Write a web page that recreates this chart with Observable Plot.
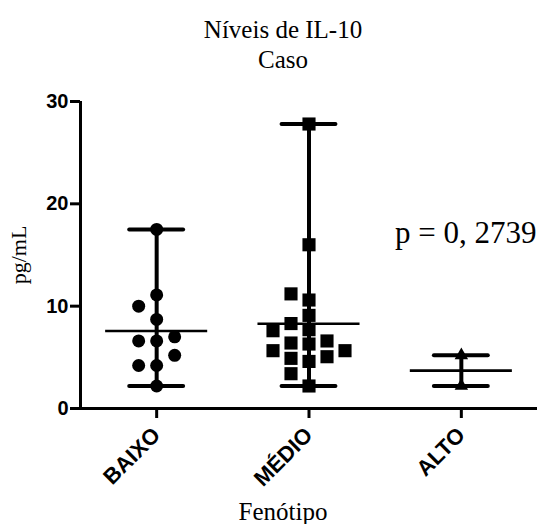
<!DOCTYPE html>
<html>
<head>
<meta charset="utf-8">
<script src="https://cdn.jsdelivr.net/npm/d3@7"></script>
<script src="https://cdn.jsdelivr.net/npm/@observablehq/plot@0.6"></script>
<style>
  html, body { margin: 0; padding: 0; background: #fff; }
</style>
</head>
<body>
<div id="chart"></div>
<script>
// ---- data ----
const categories = ["BAIXO", "MÉDIO", "ALTO"];
const baixo = [17.5, 11.1, 10.0, 8.7, 7.0, 6.6, 6.6, 5.2, 4.2, 4.2, 2.2];
const medio = [27.8, 16.0, 11.2, 10.6, 9.1, 8.3, 7.7, 7.6, 6.6, 6.4, 6.3, 5.65, 5.65, 5.06, 4.9, 4.6, 3.4, 2.2];
const alto = [5.2, 2.2];
const symbols = ["circle", "square", "triangle"];
const yTicks = [0, 10, 20, 30];
const titleLines = ["Níveis de IL-10", "Caso"];
const pText = "p = 0, 2739";
const xLabel = "Fenótipo";
const yLabel = "pg/mL";

// ---- layout ----
const W = 538, H = 524, mT = 101, mB = 116, mL = 80, mR = 1;
const pxPerY = (H - mT - mB) / 30;
const pxPerX = (W - mL - mR) / categories.length;
const sep = 14 / pxPerY;   // vertical collision distance in data units
const step = 18 / pxPerX;  // horizontal column step in data units

// simple column scatter (computed, not stored)
function swarm(values) {
  const sorted = values.slice().sort((a, b) => a - b);
  const placed = [];
  for (const v of sorted) {
    let col = 0;
    for (const c of [0, -1, 1, -2, 2, -3, 3]) {
      if (!placed.some(p => p.col === c && Math.abs(p.v - v) < sep)) { col = c; break; }
    }
    placed.push({col, v});
  }
  return placed;
}

const groups = [baixo, medio, alto];
const stats = groups.map((vals, i) => ({
  cat: categories[i],
  c: i + 0.5,
  min: d3.min(vals),
  max: d3.max(vals),
  mean: d3.mean(vals)
}));
const points = groups.map((vals, i) =>
  swarm(vals).map(p => ({cat: categories[i], x: i + 0.5 + p.col * step, value: p.v}))
);

const capHalf = 0.177, meanHalf = 0.335;
const serif = "Liberation Serif, Times New Roman, serif";

const plot = Plot.plot({
  width: W,
  height: H,
  marginTop: mT,
  marginBottom: mB,
  marginLeft: mL,
  marginRight: mR,
  style: {fontFamily: "Liberation Sans, Arial, sans-serif", fontWeight: "bold", fontSize: "20px", color: "black", background: "white"},
  x: {type: "linear", domain: [0, categories.length]},
  y: {domain: [0, 30]},
  marks: [
    Plot.axisY({ticks: yTicks, tickSize: 10, tickPadding: 2, strokeWidth: 3, label: null}),
    Plot.axisX({ticks: stats.map(d => d.c), tickFormat: (d) => categories[Math.floor(d)], tickRotate: -45, tickSize: 10, tickPadding: 13, strokeWidth: 3, fontSize: 22, label: null}),
    Plot.ruleX([0], {strokeWidth: 3}),
    Plot.ruleY([0], {strokeWidth: 3}),
    // range line
    Plot.ruleX(stats, {x: "c", y1: "min", y2: "max", strokeWidth: 4}),
    // caps
    Plot.ruleY(stats, {y: "min", x1: d => d.c - capHalf, x2: d => d.c + capHalf, strokeWidth: 4, strokeLinecap: "round"}),
    Plot.ruleY(stats, {y: "max", x1: d => d.c - capHalf, x2: d => d.c + capHalf, strokeWidth: 4, strokeLinecap: "round"}),
    // mean
    Plot.ruleY(stats, {y: "mean", x1: d => d.c - meanHalf, x2: d => d.c + meanHalf, strokeWidth: 2.7}),
    // dots
    Plot.dot(points[0], {x: "x", y: "value", symbol: symbols[0], r: 6.5, fill: "black", stroke: "none"}),
    Plot.dot(points[1], {x: "x", y: "value", symbol: symbols[1], r: 7.4, fill: "black", stroke: "none"}),
    Plot.dot(points[2], {x: "x", y: "value", symbol: symbols[2], r: 5, fill: "black", stroke: "none"}),
    // texts
    Plot.text([titleLines.join("\n")], {frameAnchor: "top", dx: -26, dy: -34, lineAnchor: "bottom", lineHeight: 1.2, fontFamily: serif, fontWeight: "normal", fontSize: 25, fill: "black"}),
    Plot.text([pText], {frameAnchor: "top-right", textAnchor: "end", lineAnchor: "bottom", dx: -1, dy: 141, fontFamily: serif, fontWeight: "normal", fontSize: 31, fill: "black"}),
    Plot.text([xLabel], {frameAnchor: "bottom", lineAnchor: "bottom", dx: -26, dy: 111, fontFamily: serif, fontWeight: "normal", fontSize: 25, fill: "black"}),
    Plot.text([yLabel], {frameAnchor: "left", textAnchor: "middle", rotate: -90, dx: -62, fontFamily: serif, fontWeight: "normal", fontSize: 22, fill: "black"})
  ]
});
document.getElementById("chart").appendChild(plot);
</script>
</body>
</html>
